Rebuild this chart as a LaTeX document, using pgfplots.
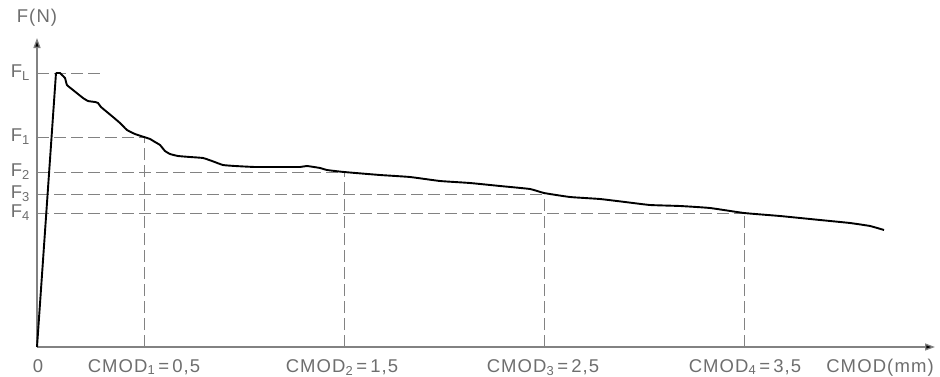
\documentclass[border=0pt]{standalone}
\usepackage{fontspec}
\setmainfont{Liberation Sans}[LetterSpace=6]
\usepackage{pgfplots}
\pgfplotsset{compat=1.18}
\usetikzlibrary{arrows.meta}
\definecolor{txt}{RGB}{110,110,110}
\definecolor{axl}{RGB}{130,130,130}
\begin{document}
\begin{tikzpicture}[font=\fontsize{18.5}{22}\selectfont]
\path[use as bounding box] (0,0) rectangle (940pt,376pt);
\begin{axis}[
  at={(37pt,29pt)}, anchor=south west,
  scale only axis, width=898pt, height=309pt,
  xmin=-0.035, xmax=4.455, ymin=0, ymax=3.09,
  axis lines=left,
  axis line style={draw=axl, line width=1.3pt, -{Triangle[length=10pt,width=7pt,fill=black]}},
  xtick=\empty, ytick=\empty,
  clip=false,
]
% reference dashed lines
\addplot[axl, line width=0.9pt, dash pattern=on 12pt off 5pt] coordinates {(-0.035,2.74) (0.28,2.74)};
\addplot[axl, line width=0.9pt, dash pattern=on 12pt off 5pt] coordinates {(-0.035,2.10) (0.5,2.10)};
\addplot[axl, line width=0.9pt, dash pattern=on 12pt off 5pt] coordinates {(-0.035,1.75) (1.5,1.75)};
\addplot[axl, line width=0.9pt, dash pattern=on 12pt off 5pt] coordinates {(-0.035,1.53) (2.5,1.53)};
\addplot[axl, line width=0.9pt, dash pattern=on 12pt off 5pt] coordinates {(-0.035,1.34) (3.5,1.34)};
\addplot[axl, line width=0.9pt, dash pattern=on 12pt off 5pt] coordinates {(0.5,0) (0.5,2.10)};
\addplot[axl, line width=0.9pt, dash pattern=on 12pt off 5pt] coordinates {(1.5,0) (1.5,1.75)};
\addplot[axl, line width=0.9pt, dash pattern=on 12pt off 5pt] coordinates {(2.5,0) (2.5,1.53)};
\addplot[axl, line width=0.9pt, dash pattern=on 12pt off 5pt] coordinates {(3.5,0) (3.5,1.34)};
% load - CMOD curve
\addplot[black, line width=1.9pt, line join=round] coordinates {
(-0.035,0) (0.06,2.74)};
\addplot[black, line width=1.9pt, line join=round, smooth, tension=0.25] coordinates {
(0.06,2.74) (0.08,2.74) (0.09,2.72) (0.105,2.69) (0.115,2.62) (0.145,2.57)
(0.195,2.49) (0.22,2.46) (0.255,2.45) (0.27,2.44) (0.285,2.40) (0.345,2.30)
(0.38,2.24) (0.415,2.17) (0.455,2.13) (0.50,2.10) (0.53,2.08) (0.555,2.05)
(0.58,2.02) (0.605,1.96) (0.63,1.93) (0.67,1.91) (0.73,1.90) (0.795,1.89)
(0.84,1.86) (0.895,1.82) (0.955,1.81) (1.055,1.80) (1.18,1.80) (1.28,1.80)
(1.315,1.81) (1.38,1.79) (1.415,1.77) (1.5,1.75) (1.68,1.72) (1.83,1.70)
(1.98,1.66) (2.13,1.64) (2.28,1.61) (2.43,1.58) (2.5,1.54) (2.63,1.50)
(2.78,1.48) (2.905,1.45) (3.03,1.42) (3.18,1.41) (3.33,1.39) (3.5,1.34)
(3.68,1.31) (3.88,1.27) (4.03,1.24) (4.13,1.21) (4.20,1.17)};
% labels
\node[txt, anchor=base] at (axis cs:-0.035,3.09) [yshift=16pt] {F(N)};
\node[txt, anchor=east, inner sep=0pt] at (axis cs:-0.035,2.74) [xshift=-7pt] {F\textsubscript{L}};
\node[txt, anchor=east, inner sep=0pt] at (axis cs:-0.035,2.10) [xshift=-7pt] {F\textsubscript{1}};
\node[txt, anchor=east, inner sep=0pt] at (axis cs:-0.035,1.75) [xshift=-7pt] {F\textsubscript{2}};
\node[txt, anchor=east, inner sep=0pt] at (axis cs:-0.035,1.53) [xshift=-7pt] {F\textsubscript{3}};
\node[txt, anchor=east, inner sep=0pt] at (axis cs:-0.035,1.34) [xshift=-7pt] {F\textsubscript{4}};
\node[txt, anchor=base] at (axis cs:-0.03,0) [yshift=-25pt] {0};
\node[txt, anchor=base] at (axis cs:0.5,0) [yshift=-25pt] {CMOD\textsubscript{1}\,=\,0,5};
\node[txt, anchor=base] at (axis cs:1.49,0) [yshift=-25pt] {CMOD\textsubscript{2}\,=\,1,5};
\node[txt, anchor=base] at (axis cs:2.495,0) [yshift=-25pt] {CMOD\textsubscript{3}\,=\,2,5};
\node[txt, anchor=base] at (axis cs:3.505,0) [yshift=-25pt] {CMOD\textsubscript{4}\,=\,3,5};
\node[txt, anchor=base] at (axis cs:4.18,0) [yshift=-25pt] {CMOD(mm)};
\end{axis}
\end{tikzpicture}
\end{document}
